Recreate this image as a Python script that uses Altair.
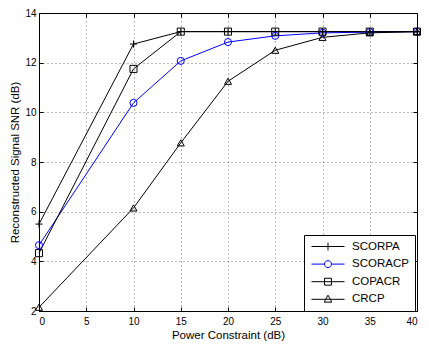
import altair as alt
import pandas as pd

power = [0, 10, 15, 20, 25, 30, 35, 40]
series_names = ["SCORPA", "SCORACP", "COPACR", "CRCP"]
scorpa = [5.5, 12.75, 13.25, 13.25, 13.25, 13.25, 13.25, 13.25]
scoracp = [4.65, 10.38, 12.07, 12.83, 13.08, 13.2, 13.23, 13.25]
copacr = [4.33, 11.75, 13.25, 13.25, 13.25, 13.25, 13.25, 13.25]
crcp = [2.15, 6.15, 8.77, 11.25, 12.5, 13.02, 13.2, 13.25]
colors = ["#000000", "#0000ff", "#000000", "#000000"]
x_ticks = [0, 5, 10, 15, 20, 25, 30, 35, 40]
y_ticks = [2, 4, 6, 8, 10, 12, 14]

rows = []
for name, vals in zip(series_names, [scorpa, scoracp, copacr, crcp]):
    for p, v in zip(power, vals):
        rows.append({"power": p, "snr": v, "method": name})
df = pd.DataFrame(rows)

FONT = "Liberation Sans"
W, H = 378, 298
PLUS = "M-1,0H1M0,-1V1"
point_shapes = [PLUS, "circle", "square", "triangle-up"]

# legend symbols: line + marker, path units = half the line length
leg_plus = "M-1,0H1M0,-0.24V0.24"
leg_circ = "M-1,0H-0.21M0.21,0H1M-0.21,0A0.21,0.21,0,1,0,0.21,0A0.21,0.21,0,1,0,-0.21,0Z"
leg_sq = "M-1,0H1M-0.21,-0.21H0.21V0.21H-0.21Z"
leg_tri = "M-1,0H1M0,-0.25L0.23,0.17L-0.23,0.17Z"
legend_shapes = [leg_plus, leg_circ, leg_sq, leg_tri]

xscale = alt.Scale(domain=[0, 40], nice=False)
yscale = alt.Scale(domain=[2, 14], nice=False)


def cscale():
    return alt.Scale(domain=series_names, range=colors)


def tick_axis(orient, values, offset):
    return alt.Axis(
        orient=orient, values=values, labels=False, title=None, grid=False,
        domain=False, ticks=True, tickColor="#000000", tickSize=4, tickWidth=1,
        offset=offset,
    )


xaxis = alt.Axis(
    orient="bottom", values=x_ticks, title="Power Constraint (dB)", grid=True,
    gridDash=[1, 3], gridColor="#000000", gridOpacity=0.55, domain=False, ticks=False,
    labelPadding=5, labelFont=FONT, labelFontSize=10, labelColor="#000000",
    titleFont=FONT, titleFontSize=11.5, titleFontWeight="normal", titleColor="#000000",
    titlePadding=3,
)
yaxis = alt.Axis(
    orient="left", values=y_ticks, title="Reconstructed Signal SNR (dB)", grid=True,
    gridDash=[1, 3], gridColor="#000000", gridOpacity=0.55, domain=False, ticks=False,
    labelPadding=3, labelFont=FONT, labelFontSize=10, labelColor="#000000",
    titleFont=FONT, titleFontSize=11.5, titleFontWeight="normal", titleColor="#000000",
    titlePadding=4,
)

base = alt.Chart(df)
lines = base.mark_line(strokeWidth=1).encode(
    x=alt.X("power:Q", scale=xscale, axis=xaxis),
    y=alt.Y("snr:Q", scale=yscale, axis=yaxis),
    color=alt.Color("method:N", scale=cscale(), legend=None),
    detail="method:N",
)
points = base.mark_point(filled=False, strokeWidth=1, size=50, opacity=1).encode(
    x=alt.X("power:Q", scale=xscale, axis=tick_axis("top", x_ticks, -H)),
    y=alt.Y("snr:Q", scale=yscale, axis=tick_axis("right", y_ticks, -W)),
    color=alt.Color("method:N", scale=cscale(), legend=None),
    shape=alt.Shape("method:N", scale=alt.Scale(domain=series_names, range=point_shapes), legend=None),
)
legend = alt.Legend(
    title=None, orient="none", legendX=265, legendY=222,
    padding=6, symbolSize=1089, clipHeight=11, symbolOffset=1, labelOffset=7,
    rowPadding=5.6, symbolStrokeWidth=1, symbolFillColor="transparent",
    labelFont=FONT, labelFontSize=11.5, labelColor="#000000",
    strokeColor="#000000", fillColor="#ffffff", cornerRadius=0,
)
legend_layer = base.transform_filter("datum.power < 0").mark_point(
    filled=False, strokeWidth=1, size=1089, opacity=1
).encode(
    x=alt.X("power:Q", scale=xscale, axis=tick_axis("bottom", x_ticks, -H)),
    y=alt.Y("snr:Q", scale=yscale, axis=tick_axis("left", y_ticks, -W)),
    color=alt.Color("method:N", scale=cscale(), legend=legend),
    shape=alt.Shape("method:N", scale=alt.Scale(domain=series_names, range=legend_shapes), legend=legend),
)

chart = alt.layer(lines, points, legend_layer).resolve_axis(
    x="independent", y="independent"
).resolve_scale(
    color="independent", shape="independent"
).properties(
    width=W, height=H,
    autosize=alt.AutoSizeParams(type="none"),
    padding={"left": 31, "top": 5, "right": 4, "bottom": 32},
    background="#ffffff",
).configure_view(stroke="#000000", strokeWidth=1)

chart.save("out.html", embed_options={"renderer": "svg", "actions": False})
